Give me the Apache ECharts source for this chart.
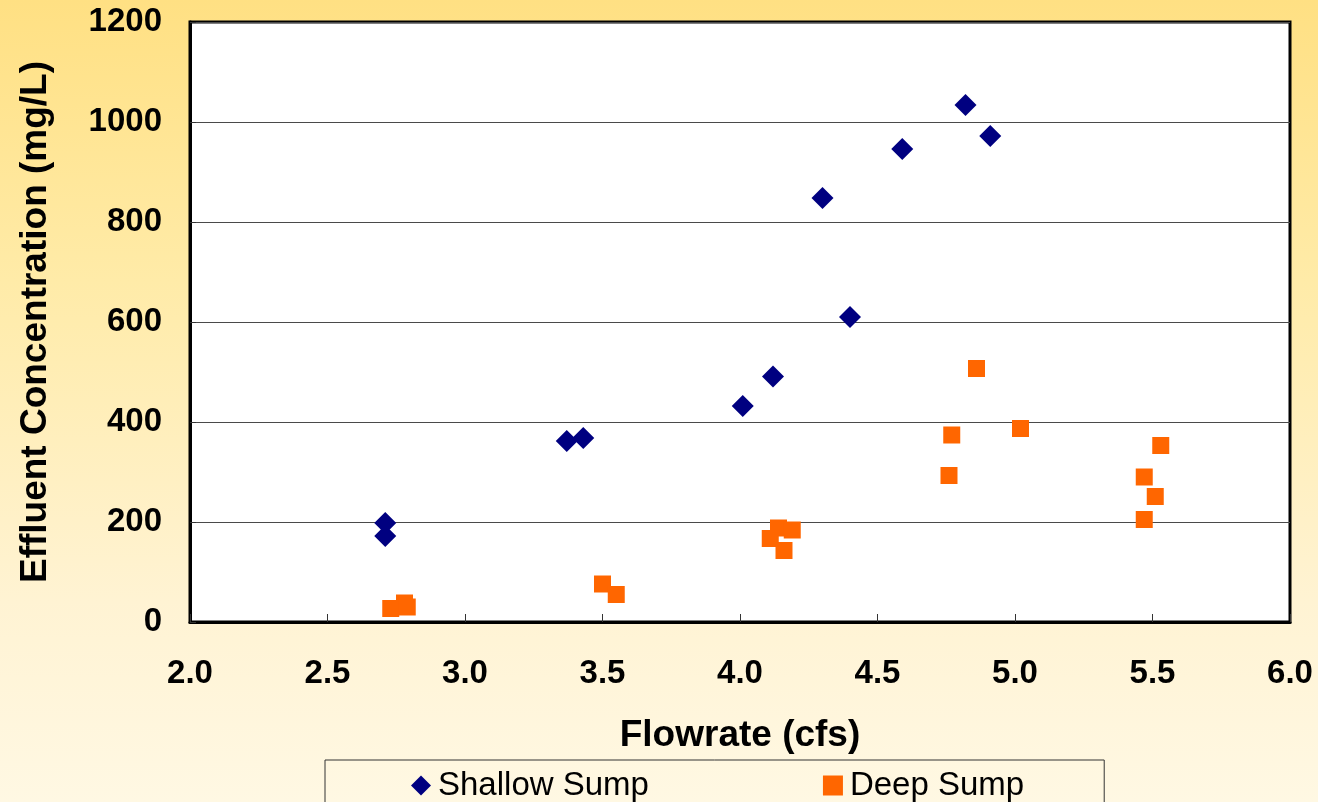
<!DOCTYPE html>
<html>
<head>
<meta charset="utf-8">
<script src="https://cdn.jsdelivr.net/npm/echarts@6/dist/echarts.min.js"></script>
<style>
  html, body { margin: 0; padding: 0; }
  #chart { width: 1318px; height: 802px; }
</style>
</head>
<body>
<div id="chart"></div>
<script>
// Flowrate (cfs) and effluent concentration (mg/L) for each sump configuration
const shallowFlow = [2.71, 2.71, 3.37, 3.43, 4.01, 4.12, 4.30, 4.40, 4.59, 4.82, 4.91];
const shallowConc = [198, 172, 362, 368, 432, 491, 848, 610, 946, 1034, 972];

const deepFlow = [2.73, 2.78, 2.79, 3.50, 3.55, 4.11, 4.14, 4.16, 4.19, 4.76, 4.77, 4.86, 5.02, 5.47, 5.47, 5.51, 5.53];
const deepConc = [27, 38, 30, 76, 55, 167, 188, 143, 184, 293, 374, 507, 387, 205, 290, 251, 353];

const xTicks = [2.0, 2.5, 3.0, 3.5, 4.0, 4.5, 5.0, 5.5, 6.0];
const yTicks = [0, 200, 400, 600, 800, 1000, 1200];

const seriesNames = ['Shallow Sump', 'Deep Sump'];

const pairs = (xs, ys) => xs.map((x, i) => [x, ys[i]]);

const FONT = '"Liberation Sans", Arial, sans-serif';

const chart = echarts.init(document.getElementById('chart'));
chart.setOption({
  backgroundColor: {
    type: 'linear', x: 0, y: 0, x2: 0, y2: 1,
    colorStops: [
      { offset: 0, color: '#FFE083' },
      { offset: 0.35, color: '#FFEBA8' },
      { offset: 0.75, color: '#FFF3D3' },
      { offset: 1, color: '#FFF8E3' }
    ]
  },
  animation: false,
  grid: {
    left: 190, right: 28, top: 22, bottom: 180,
    show: true,
    backgroundColor: '#ffffff',
    borderColor: '#000000',
    borderWidth: 3
  },
  legend: {
    data: seriesNames,
    left: 325,
    top: 760,
    orient: 'horizontal',
    padding: [9, 80, 20, 86],
    itemGap: 174,
    itemWidth: 20,
    itemHeight: 20,
    borderColor: '#333333',
    borderWidth: 1,
    backgroundColor: 'transparent',
    textStyle: { fontFamily: FONT, fontSize: 33, color: '#000000', padding: [0, 0, 0, 2] }
  },
  xAxis: {
    type: 'value',
    min: xTicks[0],
    max: xTicks[xTicks.length - 1],
    interval: 0.5,
    name: 'Flowrate (cfs)',
    nameLocation: 'middle',
    nameGap: 95,
    nameTextStyle: { fontFamily: FONT, fontSize: 37, fontWeight: 'bold', color: '#000000' },
    axisLine: { show: true, onZero: false, lineStyle: { color: '#000000', width: 3 } },
    axisTick: { show: true, inside: true, length: 8, lineStyle: { color: '#333333', width: 1 } },
    axisLabel: {
      margin: 35,
      fontFamily: FONT, fontSize: 33, fontWeight: 'bold', color: '#000000',
      formatter: v => v.toFixed(1)
    },
    splitLine: { show: false }
  },
  yAxis: {
    type: 'value',
    min: yTicks[0],
    max: yTicks[yTicks.length - 1],
    interval: 200,
    name: 'Effluent Concentration (mg/L)',
    nameLocation: 'middle',
    nameGap: 136,
    nameTextStyle: { fontFamily: FONT, fontSize: 37, fontWeight: 'bold', color: '#000000' },
    axisLine: { show: true, onZero: false, lineStyle: { color: '#000000', width: 3 } },
    axisTick: { show: true, inside: true, length: 6, lineStyle: { color: '#333333', width: 1 } },
    axisLabel: {
      margin: 28,
      fontFamily: FONT, fontSize: 33, fontWeight: 'bold', color: '#000000',
      formatter: v => String(v)
    },
    splitLine: { show: true, lineStyle: { color: '#4a4a4a', width: 1 } }
  },
  series: [
    {
      name: seriesNames[0],
      type: 'scatter',
      symbol: 'diamond',
      symbolSize: 22,
      itemStyle: { color: '#000080', opacity: 1 },
      data: pairs(shallowFlow, shallowConc),
      z: 3
    },
    {
      name: seriesNames[1],
      type: 'scatter',
      symbol: 'rect',
      symbolSize: 17,
      itemStyle: { color: '#FF6600', opacity: 1 },
      data: pairs(deepFlow, deepConc),
      z: 2
    }
  ]
});
</script>
</body>
</html>
